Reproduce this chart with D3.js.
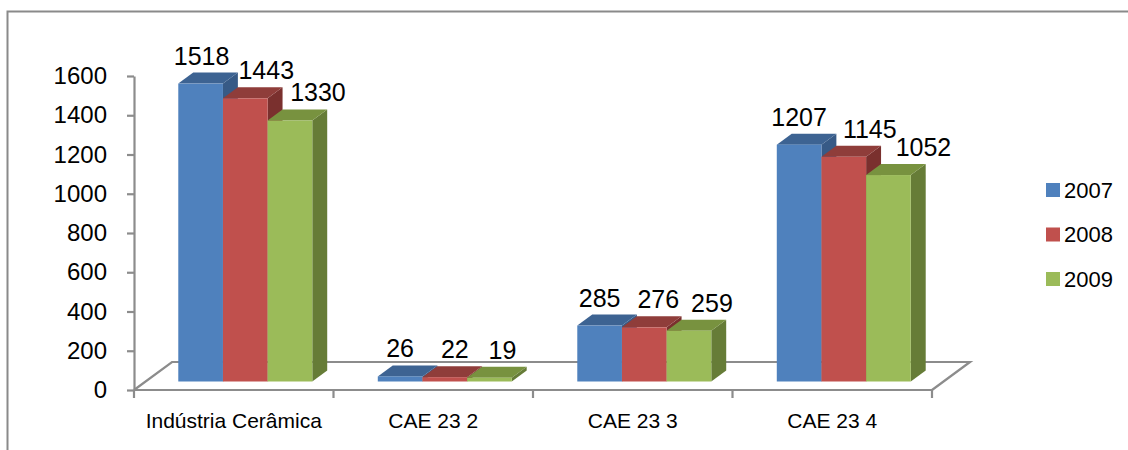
<!DOCTYPE html>
<html>
<head>
<meta charset="utf-8">
<script src="https://cdn.jsdelivr.net/npm/d3@7"></script>
<style>
  html, body { margin: 0; padding: 0; background: #fff; }
  svg { display: block; font-family: "Liberation Sans", Arial, sans-serif; }
</style>
</head>
<body>
<svg id="chart" width="1128" height="450"></svg>
<script>
// Employment by industry group, three years
const categories = ["Indústria Cerâmica", "CAE 23 2", "CAE 23 3", "CAE 23 4"];
const years = ["2007", "2008", "2009"];
const values2007 = [1518, 26, 285, 1207];
const values2008 = [1443, 22, 276, 1145];
const values2009 = [1330, 19, 259, 1052];
const yTicks = [0, 200, 400, 600, 800, 1000, 1200, 1400, 1600];

const seriesValues = [values2007, values2008, values2009];

// face colours per series: front, top, side
const palette = [
  { front: "#4F81BD", top: "#3D6392", side: "#375A86" },
  { front: "#C0504D", top: "#8F3D3A", side: "#7A302E" },
  { front: "#9BBB59", top: "#78923F", side: "#667C37" }
];

// horizontal nudge of each value label (per category, per series)
const labelShift = [[1, 21, 28], [0, 10, 13], [0, 14, 23], [0, 26, 35]];

const svg = d3.select("#chart");

// chart frame
svg.append("rect")
  .attr("x", 7.5).attr("y", 11.5)
  .attr("width", 1300).attr("height", 600)
  .attr("fill", "none").attr("stroke", "#8a8a8a").attr("stroke-width", 2);

// projection: floor front edge, floor depth, bar depth
const floorLeft = 134, floorRight = 932, floorY = 390;
const floorDx = 38, floorDy = 28;
const barDepth = 11 / 28;                 // fraction of floor depth
const barFront = (1 - barDepth) / 2;      // bar front plane offset
const bdx = floorDx * barDepth, bdy = floorDy * barDepth;
const fdx = floorDx * barFront, fdy = floorDy * barFront;

const y = d3.scaleLinear().domain([0, 1600]).range([floorY, 76]);
const x = d3.scaleBand().domain(categories).range([floorLeft, floorRight]);
const clusterWidth = 134;
const xs = d3.scaleBand().domain(years).range([0, clusterWidth]);

const gridColor = "#8c8c8c";

// floor back edge and sides (drawn first so bars cover them)
svg.append("path")
  .attr("d", d3.line()([
    [floorLeft, floorY],
    [floorLeft + floorDx, floorY - floorDy],
    [floorRight + floorDx, floorY - floorDy],
    [floorRight, floorY]
  ]))
  .attr("fill", "none").attr("stroke", gridColor).attr("stroke-width", 2.2);

// y axis
const yAxis = d3.axisLeft(y).tickValues(yTicks).tickFormat(d3.format("d"))
  .tickSize(7).tickSizeOuter(0).tickPadding(20);
const gy = svg.append("g").attr("transform", `translate(${floorLeft},0)`).call(yAxis);
gy.select(".domain").attr("stroke", gridColor).attr("stroke-width", 2.2);
gy.selectAll(".tick line").attr("stroke", gridColor).attr("stroke-width", 2.2);
gy.selectAll(".tick text").attr("font-size", 24).attr("fill", "#000")
  .attr("font-family", "'Liberation Sans', Arial, sans-serif");

// bars
const bars = svg.append("g");
categories.forEach((cat, ci) => {
  const x0band = x(cat) + (x.bandwidth() - clusterWidth) / 2 + fdx;
  years.forEach((yr, si) => {
    const v = seriesValues[si][ci];
    const c = palette[si];
    const xl = x0band + xs(yr);
    const xr = xl + xs.bandwidth();
    const yb = floorY - fdy;
    const yt = yb - (y(0) - y(v));
    const g = bars.append("g");
    g.append("path")
      .attr("d", d3.line()([[xr, yt], [xr + bdx, yt - bdy], [xr + bdx, yb - bdy], [xr, yb]]) + "Z")
      .attr("fill", c.side);
    g.append("path")
      .attr("d", d3.line()([[xl, yt], [xr, yt], [xr + bdx, yt - bdy], [xl + bdx, yt - bdy]]) + "Z")
      .attr("fill", c.top);
    g.append("rect")
      .attr("x", xl).attr("y", yt)
      .attr("width", xr - xl).attr("height", yb - yt)
      .attr("fill", c.front);
    svg.append("text")
      .attr("x", (xl + xr) / 2 + labelShift[ci][si])
      .attr("y", yt - 19)
      .attr("text-anchor", "middle")
      .attr("font-size", 25)
      .attr("fill", "#000")
      .text(v);
  });
});

// floor front edge with category ticks
svg.append("line")
  .attr("x1", floorLeft).attr("x2", floorRight)
  .attr("y1", floorY).attr("y2", floorY)
  .attr("stroke", gridColor).attr("stroke-width", 2.2);
const tickXs = categories.map(c => x(c)).concat([x(categories[categories.length - 1]) + x.bandwidth()]);
svg.append("g").selectAll("line").data(tickXs).join("line")
  .attr("x1", d => d).attr("x2", d => d)
  .attr("y1", floorY).attr("y2", floorY + 8)
  .attr("stroke", gridColor).attr("stroke-width", 2.2);
svg.append("g").selectAll("text").data(categories).join("text")
  .attr("x", d => x(d) + x.bandwidth() / 2)
  .attr("y", 428)
  .attr("text-anchor", "middle")
  .attr("font-size", 21)
  .attr("fill", "#000")
  .text(d => d);

// legend
const legend = svg.append("g");
years.forEach((yr, i) => {
  const cy = 190 + i * 44.5;
  legend.append("rect")
    .attr("x", 1046).attr("y", cy - 7)
    .attr("width", 14).attr("height", 14)
    .attr("fill", palette[i].front);
  legend.append("text")
    .attr("x", 1064).attr("y", cy)
    .attr("dy", "0.36em")
    .attr("font-size", 22)
    .attr("fill", "#000")
    .text(yr);
});
</script>
</body>
</html>
